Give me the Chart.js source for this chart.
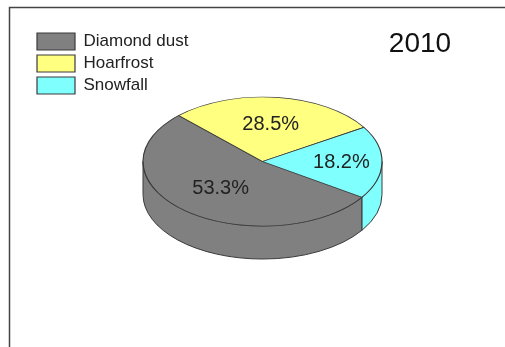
<!DOCTYPE html>
<html>
<head>
<meta charset="utf-8">
<script src="https://cdn.jsdelivr.net/npm/chart.js@4.4.1/dist/chart.umd.min.js"></script>
<style>
  html, body { margin: 0; padding: 0; background: #fff; }
  #wrap { position: relative; width: 505px; height: 347px; }
  canvas { display: block; }
</style>
</head>
<body>
<div id="wrap"><canvas id="c" width="505" height="347"></canvas></div>
<script>
const categories = ['Diamond dust', 'Hoarfrost', 'Snowfall'];
const percentages = [53.3, 28.5, 18.2];
const sliceColors = ['#808080', '#ffff80', '#80ffff'];
const yearLabel = '2010';

const TILT = 0.54;      // vertical squash of the pie
const DEPTH = 33;       // thickness of the pie in px
const EDGE = '#3a3a3a';

function norm(a) { const t = Math.PI * 2; return ((a % t) + t) % t; }

const pie3d = {
  id: 'pie3d',
  beforeDraw(chart) {
    const ctx = chart.ctx;
    ctx.save();
    ctx.strokeStyle = '#444';
    ctx.lineWidth = 1.5;
    ctx.beginPath();
    ctx.moveTo(9.5, 347);
    ctx.lineTo(9.5, 7.5);
    ctx.lineTo(505, 7.5);
    ctx.stroke();
    ctx.restore();
  },
  beforeDatasetsDraw(chart) {
    const ctx = chart.ctx;
    const arcs = chart.getDatasetMeta(0).data;
    if (!arcs.length) return;
    const cx = arcs[0].x, cy = arcs[0].y;
    const rx = arcs[0].outerRadius, ry = rx * TILT;
    ctx.save();
    arcs.forEach((arc, i) => {
      let s = arc.startAngle, e = arc.endAngle;
      const pieces = [];
      let a0 = norm(s);
      let span = e - s;
      while (span > 1e-9) {
        const lim = Math.PI * 2 - a0;
        const step = Math.min(span, lim);
        pieces.push([a0, a0 + step]);
        span -= step;
        a0 = 0;
      }
      pieces.forEach(([p0, p1]) => {
        const v0 = Math.max(p0, 0), v1 = Math.min(p1, Math.PI);
        if (v1 - v0 <= 1e-6) return;
        ctx.beginPath();
        ctx.ellipse(cx, cy, rx, ry, 0, v0, v1, false);
        ctx.lineTo(cx + rx * Math.cos(v1), cy + ry * Math.sin(v1) + DEPTH);
        ctx.ellipse(cx, cy + DEPTH, rx, ry, 0, v1, v0, true);
        ctx.closePath();
        ctx.fillStyle = sliceColors[i];
        ctx.fill();
        ctx.lineWidth = 1;
        ctx.strokeStyle = EDGE;
        ctx.stroke();
      });
    });
    ctx.restore();
    ctx.save();
    ctx.translate(cx, cy);
    ctx.scale(1, TILT);
    ctx.translate(-cx, -cy);
  },
  afterDatasetsDraw(chart) {
    const ctx = chart.ctx;
    ctx.restore();
    const arcs = chart.getDatasetMeta(0).data;
    ctx.save();
    ctx.font = '20px "Liberation Sans", Arial, sans-serif';
    ctx.fillStyle = '#222';
    ctx.textAlign = 'center';
    ctx.textBaseline = 'middle';
    const f = [0.55, 0.58, 0.66];
    arcs.forEach((arc, i) => {
      const mid = (arc.startAngle + arc.endAngle) / 2;
      const r = arc.outerRadius * f[i];
      const x = arc.x + r * Math.cos(mid);
      const y = arc.y + r * Math.sin(mid) * TILT;
      ctx.fillText(percentages[i].toFixed(1) + '%', x, y);
    });
    ctx.font = '28px "Liberation Sans", Arial, sans-serif';
    ctx.fillStyle = '#111';
    ctx.fillText(yearLabel, 420, 44);
    ctx.restore();
  }
};

new Chart(document.getElementById('c'), {
  type: 'pie',
  data: {
    labels: categories,
    datasets: [{
      data: percentages,
      backgroundColor: sliceColors,
      borderColor: EDGE,
      borderWidth: 1.2,
      hoverOffset: 0
    }]
  },
  options: {
    responsive: false,
    animation: false,
    rotation: 123.6,
    radius: 119.5,
    layout: { padding: { left: 32, top: 28, right: 12, bottom: 52 } },
    events: [],
    plugins: {
      tooltip: { enabled: false },
      legend: {
        position: 'chartArea',
        align: 'start',
        title: {
          display: true,
          text: ' ',
          font: { size: 10 },
          padding: { top: 16, bottom: 0 }
        },
        labels: {
          boxWidth: 38,
          boxHeight: 17,
          padding: 5,
          color: '#222',
          font: { family: '"Liberation Sans", Arial, sans-serif', size: 17 }
        }
      }
    }
  },
  plugins: [pie3d]
});
</script>
</body>
</html>
